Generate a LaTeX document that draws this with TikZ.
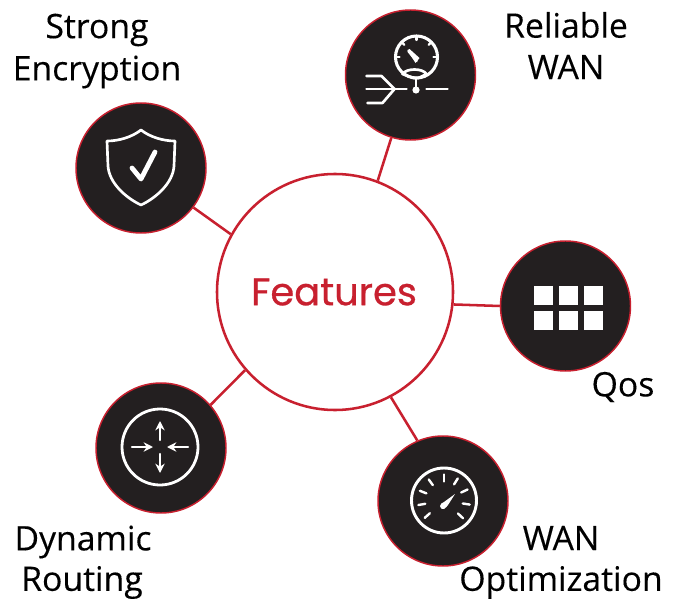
\documentclass[tikz,border=0pt]{standalone}
\usepackage{fontspec}
\setmainfont{Open Sans}[FakeBold=0.25]
\newfontfamily\featfont{Poppins}[FakeBold=0.7]
\usetikzlibrary{arrows.meta}
\definecolor{brandred}{HTML}{C8202F}
\definecolor{disc}{HTML}{231F20}
\tikzset{
  hub/.style={circle,draw=brandred,line width=1.9pt,fill=white,minimum size=177pt,inner sep=0pt},
  feature/.style={circle,draw=brandred,line width=1.1pt,fill=disc,minimum size=97.5pt,inner sep=0pt},
  link/.style={draw=brandred,line width=1.9pt},
  lbl/.style={font=\fontsize{25.3}{30}\selectfont,text=black,inner sep=0pt,anchor=center},
  icon/.style={draw=white,line width=2pt,line cap=round,line join=round},
  thin icon/.style={icon,line width=1.6pt},
  cell/.style={fill=white,draw=none}
}
\begin{document}
\begin{tikzpicture}[x=.75pt,y=-.75pt]
\useasboundingbox (0,0) rectangle (678,599);
\fill[white] (0,0) rectangle (678,599);
\node[hub] (hub) at (335,292) {};
\node[feature] (enc) at (141,168) {};
\node[feature] (rel) at (410.5,75) {};
\node[feature] (qos) at (565.5,306) {};
\node[feature] (dyn) at (161,448) {};
\node[feature] (opt) at (443,501) {};
\draw[link] (hub.151) -- (enc.-37);
\draw[link] (hub.69) -- (rel.253.6);
\draw[link] (hub.-6.8) -- (qos.180);
\draw[link] (hub.221.6) -- (dyn.41);
\draw[link] (hub.-62) -- (opt.113);
\node[inner sep=0pt,text=brandred,font=\featfont\fontsize{28.8}{34}\selectfont] (title) at (334,292) {Features};
\node[lbl] (l1a) at (97,30) {Strong};
\node[lbl] (l1b) at (97,72) {Encryption};
\node[lbl] (l2a) at (566,25) {Reliable};
\node[lbl] (l2b) at (566,67) {WAN};
\node[lbl] (l3) at (623,387) {Qos};
\node[lbl] (l4a) at (83,542) {Dynamic};
\node[lbl] (l4b) at (82,582.5) {Routing};
\node[lbl] (l5a) at (561,538) {WAN};
\node[lbl] (l5b) at (561,582.5) {Optimization};
% shield
\begin{scope}[shift={(141,168)}]
\draw[icon] (0,-38) .. controls (-9,-31) and (-22,-27) .. (-34,-27)
  -- (-33,-2) .. controls (-32,15) and (-15,30) .. (0,37)
  .. controls (15,30) and (32,15) .. (33,-2) -- (34,-27)
  .. controls (22,-27) and (9,-31) .. (0,-38) -- cycle;
\draw[icon,line width=3.6pt] (-9,0) -- (0,11) -- (14,-16);
\end{scope}
% pressure gauge
\begin{scope}[shift={(410.5,75)}]
\draw[icon,line width=2.3pt] (6,-18) circle (21);
\foreach \a in {-90,-45,0,180,225} \draw[thin icon] ({6+21*cos(\a)},{-18+21*sin(\a)}) -- ({6+17*cos(\a)},{-18+17*sin(\a)});
\draw[icon] (-2,-24) -- (6,-14);
\fill[white] (-3,-25) -- (-1,-26) -- (9,-17) -- (5,-12) -- cycle;
\draw[icon] (-8,-1) .. controls (-4,-7) and (12,-7) .. (16,-1) -- (8,3) -- (3,3) -- cycle;
\draw[icon] (5.5,3) -- (5.5,14);
\fill[white] (5.5,15) circle (3.6);
\draw[icon] (-44,1) -- (-29,1) -- (-16,14);
\draw[icon] (-44,14) -- (-4,14);
\draw[icon] (-43,28) -- (-28,28) -- (-16,14);
\draw[icon] (16,14) -- (37,14);
\end{scope}
% grid
\begin{scope}[shift={(568.5,308)}]
\foreach \cx in {-25,0,25} \foreach \cy in {-12.6,12.6}
  \fill[cell] ({\cx-9.7},{\cy-9.7}) rectangle ({\cx+9.7},{\cy+9.7});
\end{scope}
% router
\begin{scope}[shift={(160,447)}]
\draw[icon,line width=2.1pt] (0,0) circle (38);
\draw[thin icon,-{Stealth[length=7pt,width=7pt]}] (0,-7) -- (0,-26);
\draw[thin icon,-{Stealth[length=7pt,width=7pt]}] (0,7) -- (0,26);
\draw[thin icon,-{Stealth[length=7pt,width=7pt]}] (-28,0) -- (-7,0);
\draw[thin icon,-{Stealth[length=7pt,width=7pt]}] (28,0) -- (7,0);
\end{scope}
% speedometer
\begin{scope}[shift={(443,501)}]
\draw[icon,line width=2.2pt] (1,-0.5) circle (32.5);
\foreach \a in {-90,-126,-158,170,138,-58,-25,9,43}
  \draw[thin icon,line width=1.8pt] ({1+26*cos(\a)},{-0.5+26*sin(\a)}) -- ({1+19*cos(\a)},{-0.5+19*sin(\a)});
\fill[white] (-3,5) .. controls (-3,7) and (-1,9) .. (1,8) .. controls (3,7) and (4,5) .. (5,4) -- (12,-7) -- (1,1) .. controls (-1,2) and (-3,3) .. (-3,5) -- cycle;
\end{scope}
\end{tikzpicture}
\end{document}
